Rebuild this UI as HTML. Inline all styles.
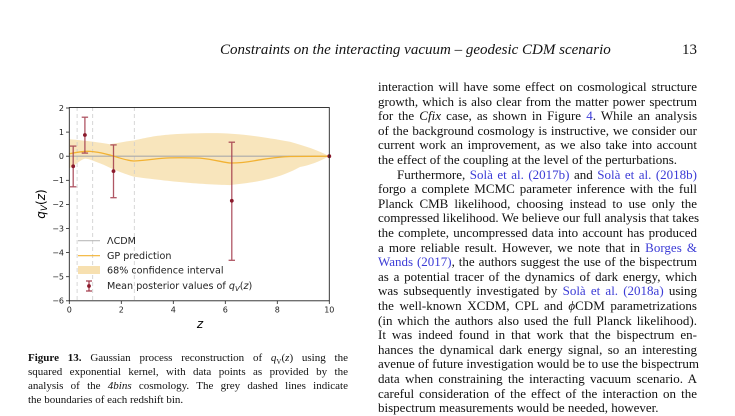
<!DOCTYPE html>
<html><head><meta charset="utf-8"><style>
body{margin:0;width:735px;height:415px;background:#fff;overflow:hidden;position:relative;font-family:"Liberation Serif",serif;color:#111}
.t{position:absolute;left:378px;width:319px;font-size:13px;line-height:14.6px;white-space:nowrap;text-align:justify;text-align-last:justify}
.c{position:absolute;left:28px;width:320px;font-size:11px;line-height:14px;white-space:nowrap;text-align:justify;text-align-last:justify}
a{color:#3b3bd6;text-decoration:none}
svg text{font-family:"DejaVu Sans",sans-serif}
</style></head><body>
<div style="position:absolute;left:220px;top:42px;width:477px;font-size:15px;font-style:italic;white-space:nowrap;">Constraints on the interacting vacuum – geodesic CDM scenario<span style="position:absolute;right:0;font-style:normal">13</span></div>

<svg width="735" height="415" style="position:absolute;left:0;top:0">
<path d="M69.3,139.3 C78,140 85,140.5 110,144.2 C120,143 126,141 134,140.5 C150,137 160,134 200,133.3 C230,132.5 250,134.5 290,141.7 C305,146 318,150 329.3,156.2 C318,162 310,165 300,167 C285,175 270,181 230,185.1 C200,184 180,182.7 134,176.7 C115,171 105,165 100,163.4 C93,160.5 88,158.6 85,158.6 C80,160 77,164 69.3,168.3 Z" fill="#f7e0b0" opacity="0.85"/>
<g stroke="#ccc" stroke-dasharray="4,3" stroke-width="0.8">
<line x1="77.1" y1="107" x2="77.1" y2="301"/><line x1="92.7" y1="107" x2="92.7" y2="301"/><line x1="134.3" y1="107" x2="134.3" y2="301"/></g>
<line x1="69.3" y1="156.2" x2="329.3" y2="156.2" stroke="#aaa" stroke-width="1.2"/>
<path d="M69.3,153.8 C78,152 85,151 90,151.4 C100,152 105,154 110,155 C120,158 126,160.5 134,161 C150,160 160,158 170,157.9 C185,157.5 195,158 200,158.1 C215,159.5 225,163 231,163 C245,163 252,161 260,159.8 C275,157.5 282,156.5 290,156.5 L329.3,156.2" fill="none" stroke="#f2b233" stroke-width="1.3"/>
<g stroke="#a2394a" stroke-width="1.3" fill="none" opacity="0.85">
<line x1="73.2" y1="146.1" x2="73.2" y2="186.8"/><line x1="70" y1="146.1" x2="76.4" y2="146.1"/><line x1="70" y1="186.8" x2="76.4" y2="186.8"/>
<line x1="84.9" y1="117.2" x2="84.9" y2="153.1"/><line x1="81.7" y1="117.2" x2="88.1" y2="117.2"/><line x1="81.7" y1="153.1" x2="88.1" y2="153.1"/>
<line x1="113.5" y1="144.9" x2="113.5" y2="197.7"/><line x1="110.3" y1="144.9" x2="116.7" y2="144.9"/><line x1="110.3" y1="197.7" x2="116.7" y2="197.7"/>
<line x1="231.8" y1="142.2" x2="231.8" y2="260.3"/><line x1="228.6" y1="142.2" x2="235" y2="142.2"/><line x1="228.6" y1="260.3" x2="235" y2="260.3"/>
</g>
<g fill="#8b1a2c"><circle cx="73.2" cy="166.3" r="1.9"/><circle cx="84.9" cy="135" r="1.9"/><circle cx="113.5" cy="171.1" r="1.9"/><circle cx="231.8" cy="200.8" r="1.9"/><circle cx="329.3" cy="156.2" r="1.9"/></g>
<rect x="69.3" y="107.5" width="260" height="193.3" fill="none" stroke="#222" stroke-width="0.9"/>
<g stroke="#222" stroke-width="0.8">
<line x1="66" y1="108" x2="69.3" y2="108"/><line x1="66" y1="132.1" x2="69.3" y2="132.1"/><line x1="66" y1="156.2" x2="69.3" y2="156.2"/><line x1="66" y1="180.3" x2="69.3" y2="180.3"/><line x1="66" y1="204.4" x2="69.3" y2="204.4"/><line x1="66" y1="228.5" x2="69.3" y2="228.5"/><line x1="66" y1="252.6" x2="69.3" y2="252.6"/><line x1="66" y1="276.7" x2="69.3" y2="276.7"/><line x1="66" y1="300.8" x2="69.3" y2="300.8"/>
<line x1="69.3" y1="300.8" x2="69.3" y2="304"/><line x1="121.3" y1="300.8" x2="121.3" y2="304"/><line x1="173.3" y1="300.8" x2="173.3" y2="304"/><line x1="225.3" y1="300.8" x2="225.3" y2="304"/><line x1="277.3" y1="300.8" x2="277.3" y2="304"/><line x1="329.3" y1="300.8" x2="329.3" y2="304"/></g>
<g font-size="8" fill="#222" text-anchor="end">
<text x="64" y="110.8">2</text><text x="64" y="134.9">1</text><text x="64" y="159">0</text><text x="64" y="183.1">−1</text><text x="64" y="207.2">−2</text><text x="64" y="231.3">−3</text><text x="64" y="255.4">−4</text><text x="64" y="279.5">−5</text><text x="64" y="303.6">−6</text></g>
<g font-size="8" fill="#222" text-anchor="middle">
<text x="69.3" y="312.5">0</text><text x="121.3" y="312.5">2</text><text x="173.3" y="312.5">4</text><text x="225.3" y="312.5">6</text><text x="277.3" y="312.5">8</text><text x="329.3" y="312.5">10</text></g>
<text x="200" y="328" font-size="12" font-style="italic" text-anchor="middle">z</text>
<text transform="translate(45,204) rotate(-90)" font-size="12" text-anchor="middle"><tspan font-style="italic">q</tspan><tspan font-size="9" dy="2" font-style="italic">V</tspan><tspan dy="-2">(</tspan><tspan font-style="italic">z</tspan>)</text>
<line x1="78" y1="240.7" x2="100" y2="240.7" stroke="#bbb" stroke-width="1.2"/>
<line x1="78" y1="255.7" x2="100" y2="255.7" stroke="#f2b233" stroke-width="1.2"/>
<rect x="78" y="266" width="22" height="8" fill="#f7e0b0"/>
<g stroke="#a2394a" stroke-width="1.2"><line x1="89" y1="281" x2="89" y2="291"/><line x1="86" y1="281" x2="92" y2="281"/><line x1="86" y1="291" x2="92" y2="291"/></g><circle cx="89" cy="286" r="1.9" fill="#8b1a2c"/>
<g font-size="9.6" fill="#222"><text x="107" y="244.2">ΛCDM</text><text x="107" y="259.2">GP prediction</text><text x="107" y="273.7">68% confidence interval</text><text x="107" y="289.2">Mean posterior values of <tspan font-style="italic">q</tspan><tspan font-size="7" dy="2" font-style="italic">V</tspan><tspan dy="-2">(</tspan><tspan font-style="italic">z</tspan>)</text></g>
</svg>

<div class="c" style="top:351px"><b>Figure 13.</b> Gaussian process reconstruction of <i>q</i><sub style="font-size:7px">V</sub>(<i>z</i>) using the</div>
<div class="c" style="top:365px">squared exponential kernel, with data points as provided by the</div>
<div class="c" style="top:379px">analysis of the <i>4bins</i> cosmology. The grey dashed lines indicate</div>
<div class="c" style="top:393px;text-align-last:left">the boundaries of each redshift bin.</div>

<div class="t" style="top:80px">interaction will have some effect on cosmological structure</div>
<div class="t" style="top:94.6px">growth, which is also clear from the matter power spectrum</div>
<div class="t" style="top:109.2px">for the <i>Cfix</i> case, as shown in Figure <a>4</a>. While an analysis</div>
<div class="t" style="top:123.8px">of the background cosmology is instructive, we consider our</div>
<div class="t" style="top:138.4px">current work an improvement, as we also take into account</div>
<div class="t" style="top:153px;text-align-last:left">the effect of the coupling at the level of the perturbations.</div>
<div class="t" style="top:167.6px;padding-left:19px;width:300px">Furthermore, <a>Solà et al. (2017b)</a> and <a>Solà et al. (2018b)</a></div>
<div class="t" style="top:182.2px">forgo a complete MCMC parameter inference with the full</div>
<div class="t" style="top:196.8px">Planck CMB likelihood, choosing instead to use only the</div>
<div class="t" style="top:211.4px">compressed likelihood. We believe our full analysis that takes</div>
<div class="t" style="top:226px">the complete, uncompressed data into account has produced</div>
<div class="t" style="top:240.6px">a more reliable result. However, we note that in <a>Borges &amp;</a></div>
<div class="t" style="top:255.2px"><a>Wands (2017)</a>, the authors suggest the use of the bispectrum</div>
<div class="t" style="top:269.8px">as a potential tracer of the dynamics of dark energy, which</div>
<div class="t" style="top:284.4px">was subsequently investigated by <a>Solà et al. (2018a)</a> using</div>
<div class="t" style="top:299px">the well-known XCDM, CPL and <i>ϕ</i>CDM parametrizations</div>
<div class="t" style="top:313.6px">(in which the authors also used the full Planck likelihood).</div>
<div class="t" style="top:328.2px">It was indeed found in that work that the bispectrum en-</div>
<div class="t" style="top:342.8px">hances the dynamical dark energy signal, so an interesting</div>
<div class="t" style="top:357.4px">avenue of future investigation would be to use the bispectrum</div>
<div class="t" style="top:372px">data when constraining the interacting vacuum scenario. A</div>
<div class="t" style="top:386.6px">careful consideration of the effect of the interaction on the</div>
<div class="t" style="top:401.2px;text-align-last:left">bispectrum measurements would be needed, however.</div>
</body></html>
